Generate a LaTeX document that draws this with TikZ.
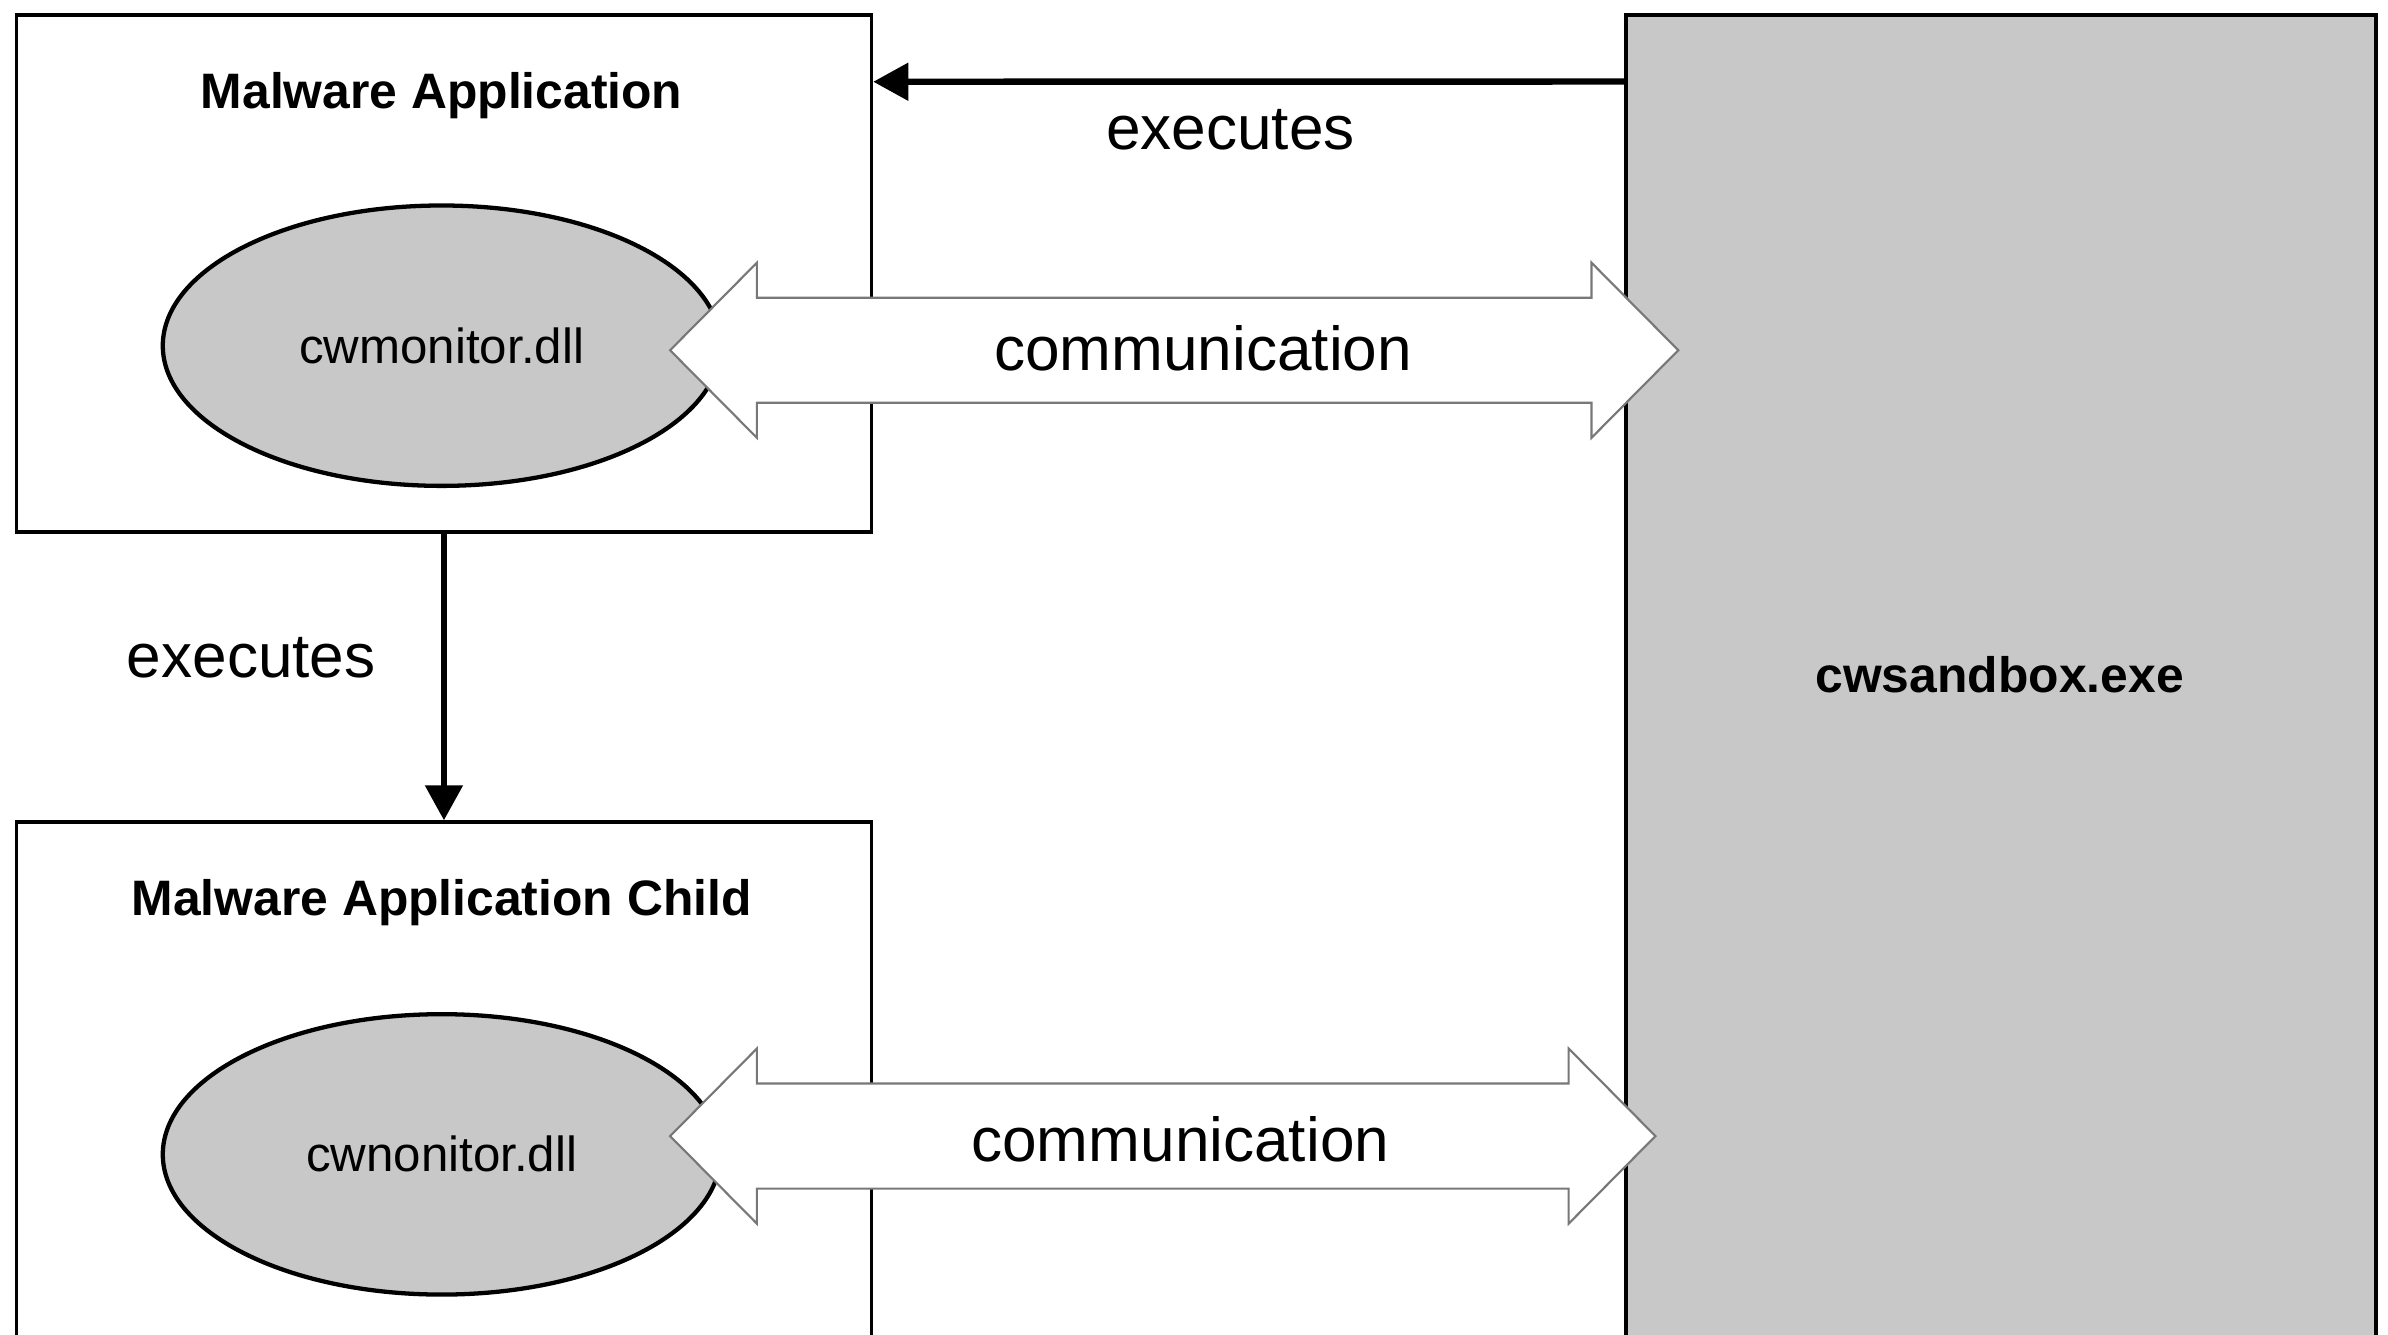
\documentclass[tikz,border=0pt]{standalone}
\usepackage{fontspec}
\setmainfont{Liberation Sans}
\usetikzlibrary{positioning, arrows.meta, calc, shapes.geometric}

\definecolor{sandgray}{RGB}{200,200,200}
\definecolor{commline}{RGB}{120,120,120}

\tikzset{
	procbox/.style={draw, line width=0.7pt, minimum width=5.61cm, minimum height=3.39cm, inner sep=0pt},
	dllnode/.style={ellipse, draw, line width=0.8pt, fill=sandgray, minimum width=3.66cm, minimum height=1.84cm, inner sep=0pt, font=\fontsize{9.2}{11}\selectfont},
	titletext/.style={font=\fontsize{9.3}{11}\selectfont\bfseries},
	bigtext/.style={font=\fontsize{11.6}{14}\selectfont},
	execarrow/.style={line width=1.2pt, -{Triangle[width=0.24cm, length=0.23cm]}},
	commshape/.style={draw=commline, line width=0.4pt, fill=white, line join=miter}
}

\begin{document}
\begin{tikzpicture}[x=0.01cm, y=0.01cm]
	\clip (0,0) rectangle (1568,876);
	\fill[white] (0,0) rectangle (1568,876);

	% boxes
	\node[procbox] (app) at (291.5,696.5) {};
	\node[procbox] (child) at (291.5,166.5) {};
	\node[draw, line width=0.7pt, fill=sandgray, minimum width=4.92cm, minimum height=8.86cm, inner sep=0pt] (sandbox) at (1314,423) {};
	\node[titletext] (sandboxlabel) at (1313,433) {cwsandbox.exe};

	\node[titletext] (apptitle) at (290,813) {Malware Application};
	\node[titletext] (childtitle) at (290,283) {Malware Application Child};

	% monitor dlls
	\node[dllnode] (dllA) at (290,649) {cwmonitor.dll};
	\node[dllnode] (dllB) at (290,118) {cwnonitor.dll};

	% executes
	\draw[execarrow] ([yshift=-0.45cm]sandbox.north west) -- ([yshift=-0.45cm]app.north east);
	\node[bigtext] (exectop) at (808,791) {executes};
	\draw[execarrow] (app.south) -- (child.north);
	\node[bigtext] (execleft) at (165,444) {executes};

	% communication
	\coordinate (ca1) at (440,646);
	\coordinate (cb1) at (1102,646);
	\coordinate (ca2) at (440,130);
	\coordinate (cb2) at (1087,130);
	\foreach \i in {1,2}{
		\draw[commshape] (ca\i) -- ++(57,57.5) -- ++(0,-23) -- ($(cb\i)+(-57,34.5)$) -- ++(0,23) -- (cb\i)
			-- ++(-57,-57.5) -- ++(0,23) -- ($(ca\i)+(57,-34.5)$) -- ++(0,-23) -- cycle;
	}
	\node[bigtext] (commA) at (790,647) {communication};
	\node[bigtext] (commB) at (775,128) {communication};
\end{tikzpicture}
\end{document}
